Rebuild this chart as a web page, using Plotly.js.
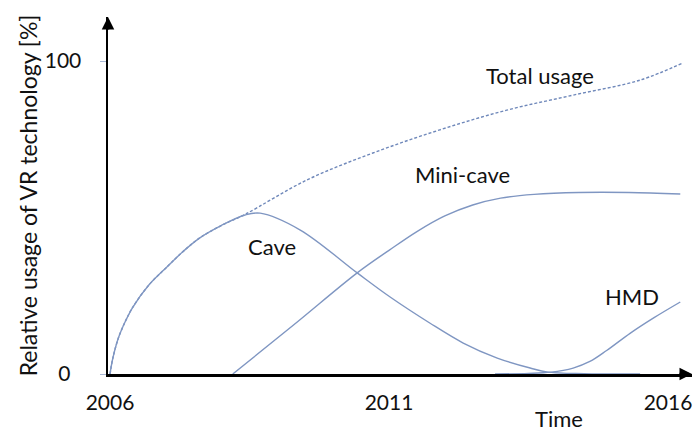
<!DOCTYPE html>
<html>
<head>
<meta charset="utf-8">
<script src="https://cdn.plot.ly/plotly-3.0.1.min.js"></script>
<style>html,body{margin:0;padding:0;background:#fff;}#chart{width:694px;height:435px;}</style>
</head>
<body>
<div id="chart"></div>
<script>
// Years and relative usage values (%)
const totalYears  = [2006, 2006.05, 2006.15, 2006.28, 2006.41, 2006.7, 2007.02, 2007.3, 2007.61, 2008.0, 2008.42, 2009.53, 2010.71, 2011.91, 2013.11, 2014.30, 2015.50, 2016.27];
const totalValues = [0, 5, 11.5, 17, 21.4, 28.5, 34.2, 39, 43.5, 47.5, 51.0, 62.0, 70.6, 78.0, 84.3, 89.1, 93.9, 99.4];

const caveYears  = [2006, 2006.05, 2006.15, 2006.28, 2006.41, 2006.7, 2007.02, 2007.3, 2007.61, 2008.0, 2008.42, 2008.69, 2009.41, 2010.43, 2011.02, 2011.73, 2012.33, 2012.94, 2013.53, 2013.85, 2014.5, 2015.5];
const caveValues = [0, 5, 11.5, 17, 21.4, 28.5, 34.2, 39, 43.5, 47.5, 50.8, 51.4, 46.0, 32.3, 24.6, 16.3, 9.9, 5.1, 1.9, 0.6, 0.1, 0];

const miniYears  = [2008.20, 2009.3, 2010.43, 2011.0, 2011.5, 2012.0, 2012.5, 2013.0, 2013.6, 2014.4, 2015.3, 2016.22];
const miniValues = [0, 15.8, 32.3, 39.5, 45.5, 50.5, 54, 56.2, 57.4, 58, 58, 57.5];

const hmdYears  = [2012.9, 2013.5, 2013.9, 2014.3, 2014.6, 2014.9, 2015.32, 2015.75, 2016.22];
const hmdValues = [0, 0.2, 0.6, 1.9, 4, 7.5, 13, 18, 23.0];

const xTickVals = [2006, 2011, 2016];
const xTickText = ['2006', '2011', '2016'];
const yTickVals = [0, 100];
const yTickText = ['0\u00a0\u00a0', '100'];

const curveLabels = [
  {text: 'Total usage', x: 2013.71, y: 95.5},
  {text: 'Mini-cave',   x: 2012.31, y: 63.6},
  {text: 'Cave',        x: 2008.90, y: 40.6},
  {text: 'HMD',         x: 2015.35, y: 24.9}
];

const lineCol = '#7f96c2';
const FONT = 'Lato, "Open Sans", sans-serif';
const TXT = '#111';

const traces = [
  {x: totalYears, y: totalValues, mode: 'lines', line: {color: '#6f88ba', width: 1.4, dash: '3px,2px', shape: 'spline', smoothing: 1}},
  {x: caveYears,  y: caveValues,  mode: 'lines', line: {color: lineCol, width: 1.4, shape: 'spline', smoothing: 1}},
  {x: miniYears,  y: miniValues,  mode: 'lines', line: {color: lineCol, width: 1.4, shape: 'spline', smoothing: 1}},
  {x: hmdYears,   y: hmdValues,   mode: 'lines', line: {color: lineCol, width: 1.4, shape: 'spline', smoothing: 1}}
];

const annotations = curveLabels.map(l => ({
  text: l.text, x: l.x, y: l.y, xref: 'x', yref: 'y', showarrow: false,
  font: {family: FONT, size: 22, color: TXT}
}));
annotations.push({text: 'Time', x: 2014.05, xref: 'x', y: -0.125, yref: 'paper', yanchor: 'middle', showarrow: false,
  font: {family: FONT, size: 22, color: TXT}});
// arrow heads at axis ends
annotations.push({text: '', x: 1, y: 0, xref: 'paper', yref: 'paper', ax: -14, ay: 0, showarrow: true,
  arrowhead: 2, arrowsize: 1, arrowwidth: 2.5, arrowcolor: '#000'});
annotations.push({text: '', x: 0, y: 1, xref: 'paper', yref: 'paper', ax: 0, ay: 14, showarrow: true,
  arrowhead: 2, arrowsize: 1, arrowwidth: 2.5, arrowcolor: '#000'});

const layout = {
  width: 694, height: 435,
  margin: {l: 108, r: 2, t: 17, b: 61},
  paper_bgcolor: '#fff', plot_bgcolor: '#fff',
  showlegend: false,
  font: {family: FONT, size: 20, color: TXT},
  xaxis: {
    range: [2005.964, 2016.43], showgrid: false, zeroline: false,
    showline: true, linecolor: '#000', linewidth: 2.5,
    tickvals: xTickVals, ticktext: xTickText, ticks: '', ticklabelstandoff: 8,
    tickfont: {family: FONT, size: 21, color: TXT}
  },
  yaxis: {
    range: [0, 114.06], showgrid: false, zeroline: false,
    showline: true, linecolor: '#000', linewidth: 2.5,
    tickvals: yTickVals, ticktext: yTickText, ticks: 'outside', ticklen: 6, tickcolor: '#a9b8d6', tickwidth: 1,
    ticklabelstandoff: 14,
    tickfont: {family: FONT, size: 21, color: TXT},
    title: {text: 'Relative usage of VR technology [%]', font: {family: FONT, size: 23, color: TXT}, standoff: 1}
  },
  annotations: annotations
};

Plotly.newPlot('chart', traces, layout, {displayModeBar: false, staticPlot: true});
</script>
</body>
</html>
